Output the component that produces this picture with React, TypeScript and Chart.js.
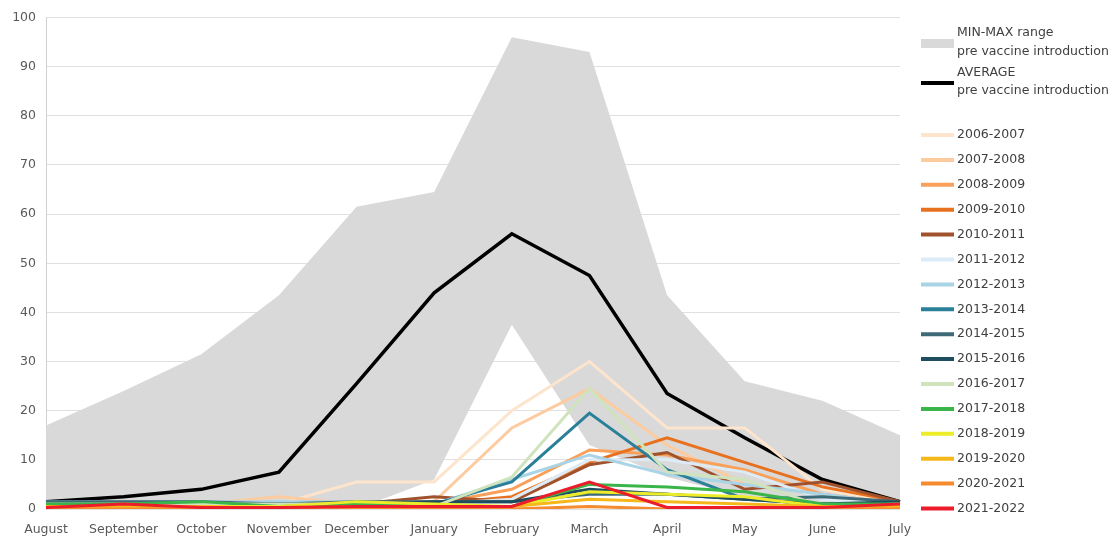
import React, { useEffect, useRef } from "react";
import { Chart, registerables } from "chart.js";
Chart.register(...registerables);

const months = ["August", "September", "October", "November", "December", "January", "February", "March", "April", "May", "June", "July"];
const yTicks = [0, 10, 20, 30, 40, 50, 60, 70, 80, 90, 100];

const maxRange = [17, 24, 31.5, 43.5, 61.5, 64.5, 96, 93, 43.5, 26, 22, 15];
const minRange = [0, 0, 0, 0, 0, 6, 37.5, 13, 6.5, 2.5, 0, 0];
const average = [1.5, 2.5, 4, 7.5, 25.5, 44, 56, 47.5, 23.5, 14.5, 6, 1.5];

const s0607 = [0.5, 0.5, 0.5, 1, 5.5, 5.5, 20, 30, 16.5, 16.5, 4, 1];
const s0708 = [1, 1, 1, 2.5, 1, 1.5, 16.5, 24.5, 13, 5, 3, 1];
const s0809 = [0.5, 0.5, 0.5, 0.5, 0.5, 1, 4, 12, 11, 8, 3, 1];
const s0910 = [0.5, 0.5, 0.5, 0.5, 0.5, 1, 2.5, 9.5, 14.5, 9.5, 4.5, 1.5];
const s1011 = [0.5, 0.5, 0.5, 0.5, 1, 2.5, 1.5, 9, 11.5, 4, 5.5, 1.5];
const s1112 = [1, 1, 1, 1, 1, 1, 2, 10, 10, 7.5, 2, 1];
const s1213 = [1.5, 1.5, 1.5, 1.5, 1.5, 1, 6, 11, 7, 5, 3, 1];
const s1314 = [1.5, 1, 1, 1, 1, 1, 5.5, 19.5, 8, 2, 1, 1];
const s1415 = [1.5, 1.5, 1.5, 1, 1.5, 1.5, 1.5, 3, 3, 2, 2.5, 1.5];
const s1516 = [1, 1, 1, 1, 1, 1.5, 1.5, 4, 3, 2, 1, 1.5];
const s1617 = [1, 1, 1, 1, 1, 0.5, 6.5, 24.5, 7.5, 6, 0.5, 1];
const s1718 = [1, 1, 1.5, 0.5, 1, 0.5, 0.5, 5, 4.5, 3.5, 1, 1];
const s1819 = [0.5, 0.5, 0.5, 0.5, 1.5, 1, 0.5, 3.5, 3, 2.5, 0.5, 0.5];
const s1920 = [0.5, 0.5, 0.5, 0, 0.5, 0.5, 0.5, 2, 1.5, 1, 0.5, 0.5];
const s2021 = [0, 0, 0, 0, 0, 0, 0, 0.5, 0, 0, 0, 0];
const s2122 = [0.3, 1, 0.3, 0.3, 0.5, 0.5, 0.5, 5.5, 0.3, 0.3, 0.3, 1];

const seasons = ["2006-2007", "2007-2008", "2008-2009", "2009-2010", "2010-2011", "2011-2012", "2012-2013", "2013-2014", "2014-2015", "2015-2016", "2016-2017", "2017-2018", "2018-2019", "2019-2020", "2020-2021", "2021-2022"];
const seasonValues = [s0607, s0708, s0809, s0910, s1011, s1112, s1213, s1314, s1415, s1516, s1617, s1718, s1819, s1920, s2021, s2122];
const seasonColors = ["#fde4cc", "#fccba0", "#f9a05a", "#e8711f", "#a0522d", "#dcebf5", "#a9d4e6", "#2a7f99", "#3e6a78", "#1d4d5f", "#cfe3bd", "#3ab54a", "#ecec28", "#f5b71a", "#f58a2f", "#ec1c2b"];

const FONT = "'DejaVu Sans', sans-serif";

export default function App() {
  const ref = useRef<HTMLCanvasElement>(null);
  useEffect(() => {
    document.body.style.margin = "0";
    const legendPlugin = {
      id: "customLegend",
      afterDraw(chart: any) {
        const ctx = chart.ctx;
        ctx.save();
        ctx.font = "12.5px " + FONT;
        ctx.textBaseline = "middle";
        ctx.textAlign = "left";
        // min-max
        ctx.fillStyle = "#d9d9d9";
        ctx.fillRect(921, 39, 33, 9);
        ctx.fillStyle = "#404040";
        ctx.fillText("MIN-MAX range", 957, 33);
        ctx.fillText("pre vaccine introduction", 957, 52);
        // average
        ctx.strokeStyle = "#000000";
        ctx.lineWidth = 4;
        ctx.beginPath();
        ctx.moveTo(921, 83);
        ctx.lineTo(954, 83);
        ctx.stroke();
        ctx.fillText("AVERAGE", 957, 73);
        ctx.fillText("pre vaccine introduction", 957, 91);
        seasons.forEach((s, i) => {
          const y = 135 + i * 24.9;
          ctx.strokeStyle = seasonColors[i];
          ctx.lineWidth = 4;
          ctx.beginPath();
          ctx.moveTo(921, y);
          ctx.lineTo(954, y);
          ctx.stroke();
          ctx.fillStyle = "#404040";
          ctx.fillText(s, 957, y);
        });
        ctx.restore();
      },
    };

    const n = seasons.length;
    const datasets: any[] = seasons.map((s, i) => ({
      label: s,
      data: seasonValues[i],
      borderColor: seasonColors[i],
      backgroundColor: seasonColors[i],
      borderWidth: 3,
      pointRadius: 0,
      tension: 0,
      fill: false,
      order: n - i,
    }));
    datasets.push({
      label: "AVERAGE",
      data: average,
      borderColor: "#000000",
      borderWidth: 3.5,
      pointRadius: 0,
      tension: 0,
      fill: false,
      order: 100,
    });
    datasets.push({
      label: "MAX",
      data: maxRange,
      borderWidth: 0,
      borderColor: "rgba(0,0,0,0)",
      backgroundColor: "#d9d9d9",
      pointRadius: 0,
      tension: 0,
      fill: "+1",
      order: 101,
    });
    datasets.push({
      label: "MIN",
      data: minRange,
      borderWidth: 0,
      borderColor: "rgba(0,0,0,0)",
      pointRadius: 0,
      tension: 0,
      fill: false,
      order: 102,
    });

    const chart = new Chart(ref.current!, {
      type: "line",
      data: { labels: months, datasets },
      options: {
        animation: false,
        responsive: false,
        maintainAspectRatio: false,
        layout: { padding: { left: 0, right: 217, top: 15, bottom: 0 } },
        plugins: {
          legend: { display: false },
          tooltip: { enabled: false },
          filler: { drawTime: "beforeDatasetsDraw" },
        },
        scales: {
          x: {
            offset: false,
            grid: { display: false, drawTicks: false },
            border: { display: false },
            ticks: { color: "#595959", font: { family: FONT, size: 12.5 }, padding: 13, maxRotation: 0, autoSkip: false },
            afterFit: (scale: any) => { scale.height = 28; },
          },
          y: {
            min: 0,
            max: 100,
            grid: { color: "#e0e0e0", drawTicks: false, lineWidth: 1 },
            border: { display: true, color: "#d0d0d0" },
            ticks: {
              stepSize: 10,
              color: "#595959",
              font: { family: FONT, size: 12.5 },
              padding: 10,
              callback: (v: any) => (yTicks.includes(Number(v)) ? String(v) : ""),
            },
            afterFit: (scale: any) => { scale.width = 46; },
          },
        },
      },
      plugins: [legendPlugin],
    });
    return () => chart.destroy();
  }, []);
  return (
    <div style={{ width: 1117, height: 537 }}>
      <canvas ref={ref} width={1117} height={537} style={{ display: "block" }} />
    </div>
  );
}
